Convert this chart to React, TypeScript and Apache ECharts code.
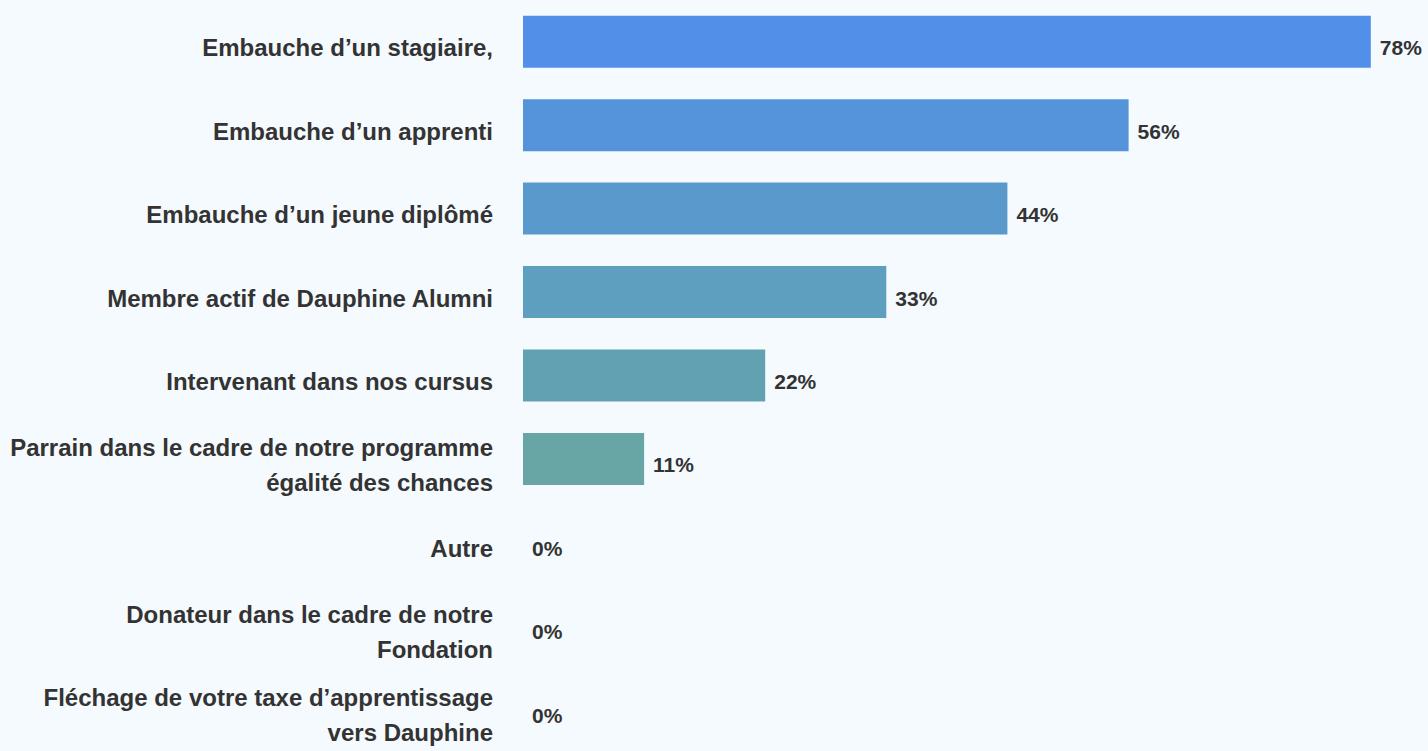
import React, { useEffect, useRef } from "react";
import * as echarts from "echarts";

const categories = [
  "Embauche d’un stagiaire,",
  "Embauche d’un apprenti",
  "Embauche d’un jeune diplômé",
  "Membre actif de Dauphine Alumni",
  "Intervenant dans nos cursus",
  "Parrain dans le cadre de notre programme\négalité des chances",
  "Autre",
  "Donateur dans le cadre de notre\nFondation",
  "Fléchage de votre taxe d’apprentissage\nvers Dauphine",
];

const values = [77.78, 55.56, 44.44, 33.33, 22.22, 11.11, 0, 0, 0];

const barColors = [
  "#528FE8",
  "#5594DA",
  "#5A99CB",
  "#5E9EBE",
  "#62A1B2",
  "#67A6A4",
  "#6AAA98",
  "#6DAD8C",
  "#70B080",
];

const withSpacer = (text: string, key: string) =>
  "{s| }\n" + text.split("\n").map((l) => `{${key}|${l}}`).join("\n");

export default function App() {
  const ref = useRef<HTMLDivElement>(null);
  useEffect(() => {
    document.body.style.margin = "0";
    if (!ref.current) return;
    const chart = echarts.init(ref.current, undefined, { renderer: "svg" });
    const font = "'Liberation Sans', Arial, sans-serif";
    chart.setOption({
      animation: false,
      backgroundColor: "#F5FAFE",
      textStyle: { fontFamily: font },
      grid: { left: 523, right: 33, top: -2, bottom: -3, containLabel: false },
      xAxis: {
        type: "value",
        min: 0,
        max: 80,
        show: false,
      },
      yAxis: {
        type: "category",
        inverse: true,
        data: categories,
        axisLine: { show: false },
        axisTick: { show: false },
        splitLine: { show: false },
        axisLabel: {
          interval: 0,
          margin: 30,
          align: "right",
          formatter: (v: string) => withSpacer(v, "a"),
          rich: {
            s: { fontSize: 1, lineHeight: 12 },
            a: {
              fontSize: 24,
              fontWeight: "bold",
              color: "#333333",
              lineHeight: 35,
              fontFamily: font,
              align: "right",
            },
          },
        },
      },
      series: [
        {
          type: "bar",
          barWidth: 52,
          data: values.map((v, i) => ({
            value: v,
            itemStyle: { color: barColors[i] },
          })),
          label: {
            show: true,
            position: "right",
            distance: 9,
            formatter: (p: any) => withSpacer(Math.round(p.value) + "%", "v"),
            rich: {
              s: { fontSize: 1, lineHeight: 12 },
              v: {
                fontSize: 21,
                fontWeight: "bold",
                color: "#333333",
                lineHeight: 35,
                fontFamily: font,
              },
            },
          },
        },
      ],
    });
    return () => chart.dispose();
  }, []);
  return <div ref={ref} style={{ width: 1428, height: 751 }} />;
}
